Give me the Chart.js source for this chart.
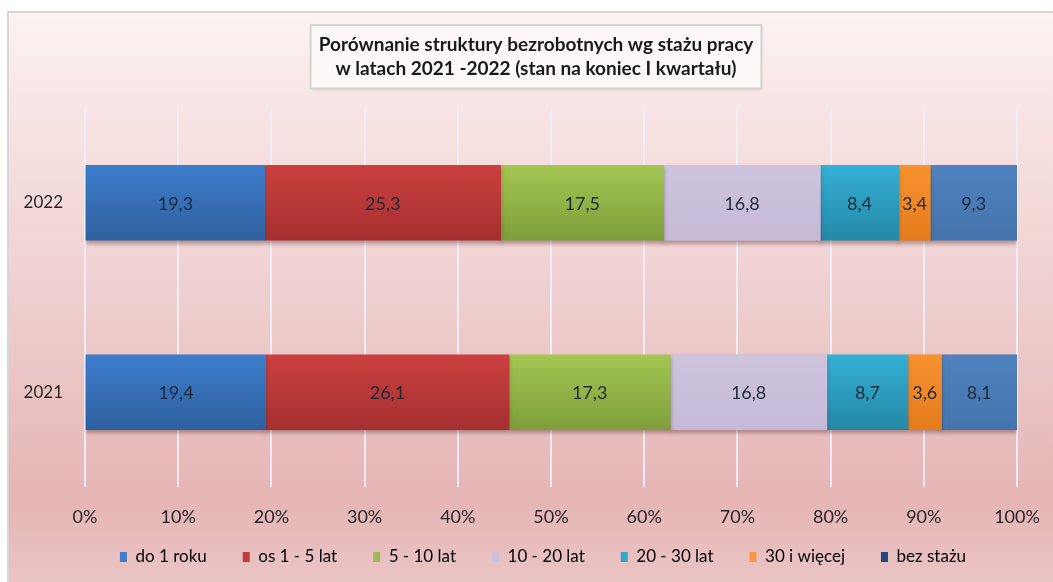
<!DOCTYPE html>
<html><head><meta charset="utf-8">
<script src="https://cdn.jsdelivr.net/npm/chart.js@4.4.0/dist/chart.umd.min.js"></script>
<style>html,body{margin:0;padding:0;background:#fff;overflow:hidden}#wrap{position:absolute;left:0;top:0;width:1053px;height:582px}</style>
</head><body><div id="wrap"><canvas id="c" width="1053" height="582"></canvas></div>
<script>
// ---- data ----
const categories = ['2022', '2021'];
const seriesNames = ['do 1 roku', 'os 1 - 5 lat', '5 - 10 lat', '10 - 20 lat', '20 - 30 lat', '30 i więcej', 'bez stażu'];
const do1Roku = [19.3, 19.4];
const od1do5Lat = [25.3, 26.1];
const od5do10Lat = [17.5, 17.3];
const od10do20Lat = [16.8, 16.8];
const od20do30Lat = [8.4, 8.7];
const ponad30Lat = [3.4, 3.6];
const bezStazu = [9.3, 8.1];
const tickLabels = ['0%', '10%', '20%', '30%', '40%', '50%', '60%', '70%', '80%', '90%', '100%'];
const titleLines = ['Porównanie struktury bezrobotnych wg stażu pracy', 'w latach 2021 -2022 (stan na koniec I kwartału)'];

// ---- styles ----
const seriesValues = [do1Roku, od1do5Lat, od5do10Lat, od10do20Lat, od20do30Lat, ponad30Lat, bezStazu];
const topColors = ['#3d7dcc', '#cc4040', '#a3c653', '#cec4de', '#35b0d6', '#f8922f', '#4f82bf'];
const bottomColors = ['#2e609f', '#a52f2f', '#7f9e3a', '#c6bad8', '#2488a5', '#e57c1c', '#4574ad'];
const legendColors = ['#3d7dcc', '#c0393b', '#9bbb59', '#ccc1da', '#31a8c8', '#f79646', '#1f497d'];
const FONT = 'Lato';
const BAR_T = 75;
const TITLE_SIZE = 19, TITLE_LH = 1.25, TITLE_PAD_TOP = 33;
const LEGEND_TOP = 512.5, LEGEND_H = 63;

function barFill(i) {
  return function (ctx) {
    const chart = ctx.chart;
    const ys = chart.scales && chart.scales.y;
    if (ctx.type !== 'data' || !ys) return topColors[i];
    const c = ys.getPixelForValue(ctx.dataIndex);
    if (c == null || isNaN(c)) return topColors[i];
    const g = chart.ctx.createLinearGradient(0, c - BAR_T / 2, 0, c + BAR_T / 2);
    g.addColorStop(0, topColors[i]);
    g.addColorStop(1, bottomColors[i]);
    return g;
  };
}

const bgPlugin = {
  id: 'bg',
  afterLayout(chart) {
    const tb = chart.titleBlock;
    if (tb) { tb.left += 24; tb.right += 24; }
    const lg = chart.legend;
    if (lg) {
      lg.left += 31; lg.right += 31;
      lg.top = LEGEND_TOP; lg.height = LEGEND_H; lg.bottom = LEGEND_TOP + LEGEND_H;
    }
  },
  beforeDraw(chart) {
    const ctx = chart.ctx, W = chart.width, H = chart.height;
    ctx.save();
    ctx.fillStyle = '#ffffff';
    ctx.fillRect(0, 0, W, H);
    const g = ctx.createLinearGradient(0, 12, 0, H);
    g.addColorStop(0, '#fcf3f3');
    g.addColorStop(0.2, '#f7e2e2');
    g.addColorStop(0.5, '#efcfcf');
    g.addColorStop(0.85, '#e6b5b5');
    g.addColorStop(1, '#ebc4c4');
    ctx.fillStyle = g;
    ctx.fillRect(8, 12, W - 8, H - 12);
    ctx.strokeStyle = '#d9d5d5';
    ctx.lineWidth = 2;
    ctx.beginPath();
    ctx.moveTo(8, H); ctx.lineTo(8, 12); ctx.lineTo(W, 12);
    ctx.stroke();
    const tb = chart.titleBlock;
    if (tb) {
      ctx.font = 'bold ' + TITLE_SIZE + 'px ' + FONT;
      const w = Math.max.apply(null, titleLines.map(l => ctx.measureText(l).width));
      const cx = (tb.left + tb.right) / 2;
      const lh = TITLE_SIZE * TITLE_LH;
      const textTop = tb.top + TITLE_PAD_TOP;
      const x0 = cx - w / 2 - 8, y0 = textTop - 8, bw = w + 16, bh = titleLines.length * lh + 16;
      ctx.shadowColor = 'rgba(0,0,0,0.12)';
      ctx.shadowBlur = 3;
      ctx.shadowOffsetX = 1; ctx.shadowOffsetY = 1;
      ctx.fillStyle = '#fdf8f8';
      ctx.fillRect(x0, y0, bw, bh);
      ctx.shadowColor = 'transparent';
      ctx.strokeStyle = '#d6d3d3';
      ctx.lineWidth = 2;
      ctx.strokeRect(x0, y0, bw, bh);
    }
    ctx.restore();
  },
  beforeDatasetsDraw(chart) {
    const ctx = chart.ctx;
    ctx.save();
    ctx.shadowColor = 'rgba(60,20,20,0.35)';
    ctx.shadowBlur = 4;
    ctx.shadowOffsetY = 3;
  },
  afterDatasetsDraw(chart) {
    const ctx = chart.ctx;
    ctx.restore();
    ctx.save();
    ctx.font = '18px ' + FONT;
    ctx.fillStyle = '#1e2a3c';
    ctx.textAlign = 'center';
    ctx.textBaseline = 'middle';
    chart.data.datasets.forEach((ds, di) => {
      const meta = chart.getDatasetMeta(di);
      meta.data.forEach((el, i) => {
        const v = ds.data[i];
        const x = (el.x + el.base) / 2;
        ctx.fillText(v.toFixed(1).replace('.', ','), x, el.y + 1);
      });
    });
    ctx.restore();
  }
};

new Chart(document.getElementById('c'), {
  type: 'bar',
  data: {
    labels: categories,
    datasets: seriesNames.map((n, i) => ({
      label: n,
      data: seriesValues[i],
      backgroundColor: barFill(i),
      borderWidth: 0,
      barThickness: BAR_T
    }))
  },
  plugins: [bgPlugin],
  options: {
    indexAxis: 'y',
    responsive: false,
    animation: false,
    devicePixelRatio: 1,
    layout: { padding: { left: 7, right: 36, top: 0, bottom: 7 } },
    scales: {
      x: {
        stacked: true, min: 0, max: 100,
        ticks: { stepSize: 10, callback: (v, i) => tickLabels[i], font: { family: FONT, size: 18 }, color: '#262626', padding: 19, maxRotation: 0 },
        grid: { color: 'rgba(238,240,250,0.9)', lineWidth: 2, drawTicks: false },
        border: { display: false },
        afterFit: (s) => { s.height = 43; s.paddingRight = 30; s.paddingLeft = 12; }
      },
      y: {
        stacked: true,
        ticks: { font: { family: FONT, size: 17 }, color: '#262626', padding: 14 },
        grid: { display: false },
        border: { display: false },
        afterFit: (s) => { s.width = 78; }
      }
    },
    plugins: {
      title: {
        display: true, text: titleLines,
        font: { family: FONT, size: TITLE_SIZE, weight: 'bold', lineHeight: TITLE_LH },
        color: '#1a1a1a',
        padding: { top: TITLE_PAD_TOP, bottom: 27.5 }
      },
      legend: {
        position: 'bottom',
        maxHeight: 45,
        labels: {
          boxWidth: 7, boxHeight: 10, padding: 36,
          font: { family: FONT, size: 17 }, color: '#2b2b2b',
          generateLabels: (chart) => seriesNames.map((n, i) => ({
            text: n, fillStyle: legendColors[i], strokeStyle: legendColors[i], lineWidth: 0,
            hidden: false, datasetIndex: i
          }))
        }
      },
      tooltip: { enabled: false }
    }
  }
});
</script></body></html>
